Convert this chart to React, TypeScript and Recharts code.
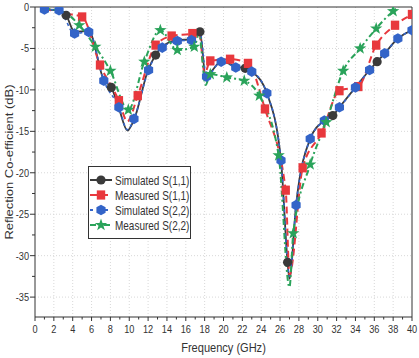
import { LineChart, Line, XAxis, YAxis, CartesianGrid, ReferenceLine } from "recharts";

type Pt = { f: number; db: number; mk?: boolean };

// Simulated S(1,1) – marker every ~4.7 GHz
const simS11: Pt[] = [
  { f: 1.0, db: -0.3 }, { f: 2.5, db: -0.4 }, { f: 3.3, db: -1.0, mk: true },
  { f: 4.2, db: -3.0 }, { f: 5.7, db: -2.9 }, { f: 7.3, db: -8.8 },
  { f: 8.1, db: -9.7, mk: true }, { f: 8.9, db: -12.2 }, { f: 9.8, db: -14.9 },
  { f: 10.5, db: -13.6 }, { f: 12.0, db: -7.6 }, { f: 12.8, db: -5.8, mk: true },
  { f: 13.5, db: -4.8 }, { f: 15.1, db: -4.0 }, { f: 16.6, db: -3.9 },
  { f: 17.5, db: -3.0, mk: true }, { f: 18.1, db: -8.3 }, { f: 19.8, db: -6.6 },
  { f: 21.4, db: -7.2 }, { f: 22.3, db: -7.4, mk: true }, { f: 23.0, db: -7.8 },
  { f: 24.6, db: -10.4 }, { f: 26.1, db: -18.5 }, { f: 26.8, db: -30.8, mk: true },
  { f: 27.0, db: -32.8 }, { f: 27.7, db: -23.9 }, { f: 29.2, db: -15.9 },
  { f: 30.7, db: -13.7 }, { f: 31.6, db: -13.1, mk: true }, { f: 32.3, db: -12.1 },
  { f: 34.0, db: -9.7 }, { f: 35.5, db: -7.6 }, { f: 36.3, db: -6.6, mk: true },
  { f: 37.1, db: -5.6 }, { f: 38.5, db: -3.8 }, { f: 40.0, db: -2.8 },
];

// Measured S(1,1)
const measS11: Pt[] = [
  { f: 1.0, db: -0.2 }, { f: 3.3, db: -0.8 }, { f: 5.0, db: -1.2, mk: true },
  { f: 6.9, db: -7.0, mk: true }, { f: 8.9, db: -11.3, mk: true }, { f: 9.8, db: -13.8 },
  { f: 10.9, db: -10.7, mk: true }, { f: 12.8, db: -4.6, mk: true }, { f: 14.5, db: -3.5, mk: true },
  { f: 16.7, db: -3.2, mk: true }, { f: 17.4, db: -2.8 }, { f: 18.0, db: -8.0 },
  { f: 18.6, db: -6.5, mk: true }, { f: 20.7, db: -6.3, mk: true }, { f: 22.6, db: -6.8, mk: true },
  { f: 24.4, db: -12.3, mk: true }, { f: 26.6, db: -22.1, mk: true }, { f: 27.0, db: -32.3 },
  { f: 28.4, db: -19.4, mk: true }, { f: 30.4, db: -15.2, mk: true }, { f: 32.3, db: -10.1, mk: true },
  { f: 34.3, db: -9.6, mk: true }, { f: 36.2, db: -4.6, mk: true }, { f: 38.2, db: -2.2, mk: true },
  { f: 40.0, db: -0.9, mk: true },
];

// Simulated S(2,2)
const simS22: Pt[] = [
  { f: 1.0, db: -0.3, mk: true }, { f: 2.55, db: -0.4, mk: true }, { f: 4.2, db: -3.2, mk: true },
  { f: 5.7, db: -3.0, mk: true }, { f: 7.3, db: -8.9, mk: true }, { f: 8.9, db: -12.1, mk: true },
  { f: 9.8, db: -14.8 }, { f: 10.5, db: -13.5, mk: true }, { f: 12.05, db: -7.6, mk: true },
  { f: 13.5, db: -4.9, mk: true }, { f: 15.1, db: -4.1, mk: true }, { f: 16.6, db: -4.0, mk: true },
  { f: 17.5, db: -3.1 }, { f: 18.2, db: -8.4, mk: true }, { f: 19.75, db: -6.6, mk: true },
  { f: 21.3, db: -7.3, mk: true }, { f: 23.0, db: -7.8, mk: true }, { f: 24.6, db: -10.4, mk: true },
  { f: 26.1, db: -18.5, mk: true }, { f: 27.0, db: -32.5 }, { f: 27.7, db: -23.9, mk: true },
  { f: 29.2, db: -15.9, mk: true }, { f: 30.7, db: -13.7, mk: true }, { f: 32.3, db: -12.1, mk: true },
  { f: 34.0, db: -9.7, mk: true }, { f: 35.5, db: -7.6, mk: true }, { f: 37.1, db: -5.6, mk: true },
  { f: 38.5, db: -3.8, mk: true }, { f: 40.0, db: -2.8, mk: true },
];

// Measured S(2,2)
const measS22: Pt[] = [
  { f: 1.0, db: -0.2 }, { f: 3.0, db: -0.6 }, { f: 4.7, db: -2.2, mk: true },
  { f: 6.4, db: -4.8, mk: true }, { f: 8.0, db: -7.7, mk: true }, { f: 9.9, db: -12.4, mk: true },
  { f: 11.6, db: -6.6, mk: true }, { f: 13.3, db: -2.8, mk: true }, { f: 15.1, db: -5.2, mk: true },
  { f: 16.9, db: -4.8, mk: true }, { f: 17.4, db: -3.2 }, { f: 18.1, db: -9.4 },
  { f: 18.6, db: -8.1, mk: true }, { f: 20.35, db: -8.5, mk: true }, { f: 22.2, db: -8.9, mk: true },
  { f: 23.8, db: -10.7, mk: true }, { f: 25.85, db: -17.9, mk: true }, { f: 27.0, db: -33.8 },
  { f: 27.4, db: -27.3, mk: true }, { f: 29.2, db: -19.0, mk: true }, { f: 30.9, db: -13.9, mk: true },
  { f: 32.7, db: -7.7, mk: true }, { f: 34.5, db: -5.0, mk: true }, { f: 36.2, db: -2.6, mk: true },
  { f: 38.0, db: -0.5, mk: true }, { f: 38.6, db: 0 },
];

const xTicks = Array.from({ length: 41 }, (_, i) => i);
const yTicks = [0, -2.5, -5, -7.5, -10, -12.5, -15, -17.5, -20, -22.5, -25, -27.5, -30, -32.5, -35];

const FONT = '"Liberation Sans", Arial, sans-serif';
const INK = "#333";
const BLACK = "#3a3a3a";
const RED = "#e8383d";
const BLUE = "#3364c8";
const GREEN = "#2aa35a";

type Shape = "circle" | "square" | "hex" | "star";

function marker(shape: Shape, cx: number, cy: number, key?: string | number) {
  if (shape === "circle") return <circle key={key} cx={cx} cy={cy} r={4.6} fill={BLACK} />;
  if (shape === "square") return <rect key={key} x={cx - 4.2} y={cy - 4.6} width={8.4} height={9.2} fill={RED} />;
  if (shape === "hex") {
    const pts = [0, 1, 2, 3, 4, 5]
      .map((i) => {
        const a = (Math.PI / 3) * i - Math.PI / 2;
        return `${cx + 5.3 * Math.cos(a)},${cy + 5.3 * Math.sin(a)}`;
      })
      .join(" ");
    return <polygon key={key} points={pts} fill={BLUE} />;
  }
  const pts = Array.from({ length: 10 }, (_, i) => {
    const r = i % 2 === 0 ? 6.5 : 2.6;
    const a = (Math.PI / 5) * i - Math.PI / 2;
    return `${cx + r * Math.cos(a)},${cy + r * Math.sin(a)}`;
  }).join(" ");
  return <polygon key={key} points={pts} fill={GREEN} />;
}

const dotFor = (shape: Shape) => (props: any) => {
  const { cx, cy, payload, index } = props;
  if (!payload?.mk || cx == null || cy == null) return <g key={`n${index}`} />;
  return marker(shape, cx, cy, `m${index}`);
};

const XTick = (props: any) => {
  const { x, y, payload } = props;
  const major = payload.value % 2 === 0;
  return (
    <g>
      <line x1={x} x2={x} y1={y} y2={y + (major ? 4 : 2.5)} stroke={INK} />
      {major && (
        <text
          transform={`translate(${x},${y + 15.5}) scale(0.8,1)`}
          textAnchor="middle"
          fontSize={11.5}
          fontFamily={FONT}
          fill={INK}
        >
          {payload.value}
        </text>
      )}
    </g>
  );
};

const YTick = (props: any) => {
  const { x, y, payload } = props;
  const major = payload.value % 5 === 0;
  return (
    <g>
      <line x1={x - (major ? 5 : 3)} x2={x} y1={y} y2={y} stroke={INK} />
      {major && (
        <text
          transform={`translate(${x - 6},${y + 4}) scale(0.8,1)`}
          textAnchor="end"
          fontSize={11.5}
          fontFamily={FONT}
          fill={INK}
        >
          {payload.value}
        </text>
      )}
    </g>
  );
};

// axis titles, drawn from the axis viewBox
const XTitle = (props: any) => {
  const vb = props.viewBox;
  return (
    <text
      transform={`translate(${vb.x + vb.width / 2},${vb.y + 35}) scale(0.85,1)`}
      textAnchor="middle"
      fontSize={13}
      fontFamily={FONT}
      fill={INK}
    >
      Frequency (GHz)
    </text>
  );
};

const YTitle = (props: any) => {
  const vb = props.viewBox;
  return (
    <text
      transform={`translate(13,${vb.y + vb.height / 2}) rotate(-90) scale(1,0.9)`}
      textAnchor="middle"
      fontSize={13}
      fontFamily={FONT}
      fill={INK}
    >
      Reflection Co-efficient (dB)
    </text>
  );
};

const legendRows: { name: string; shape: Shape; color: string; dash?: string }[] = [
  { name: "Simulated S(1,1)", shape: "circle", color: BLACK },
  { name: "Measured S(1,1)", shape: "square", color: RED, dash: "7 4" },
  { name: "Simulated S(2,2)", shape: "hex", color: BLUE, dash: "3 12" },
  { name: "Measured S(2,2)", shape: "star", color: GREEN, dash: "6 3 2 3" },
];

function LegendBox() {
  return (
    <svg
      width={103}
      height={73}
      style={{ position: "absolute", left: 88, top: 166 }}
    >
      <rect x={0.5} y={0.5} width={102} height={72} fill="#fff" stroke={INK} />
      {legendRows.map((r, i) => {
        const cy = 14 + i * 15;
        return (
          <g key={r.name}>
            <line x1={2} x2={24} y1={cy} y2={cy} stroke={r.color} strokeWidth={2} strokeDasharray={r.dash} />
            {marker(r.shape, 13, cy)}
            <text
              transform={`translate(27,${cy + 4.5}) scale(0.8,1)`}
              fontSize={12.5}
              fontFamily={FONT}
              fill={INK}
            >
              {r.name}
            </text>
          </g>
        );
      })}
    </svg>
  );
}

export default function App() {
  return (
    <div style={{ position: "absolute", left: 0, top: 0, width: 419, height: 358, background: "#fff" }}>
      <LineChart width={419} height={358} margin={{ top: 7, right: 7, bottom: 16, left: 0 }}>
        <CartesianGrid
          stroke="#d8d8d8"
          strokeDasharray="1 2"
          horizontalValues={[-5, -10, -15, -20, -25, -30, -35]}
          verticalValues={[2, 4, 6, 8, 10, 12, 14, 16, 18, 20, 22, 24, 26, 28, 30, 32, 34, 36, 38]}
        />
        <XAxis
          type="number"
          dataKey="f"
          domain={[0, 40]}
          ticks={xTicks}
          interval={0}
          allowDataOverflow
          height={25}
          tickSize={0}
          tickMargin={0}
          tickLine={false}
          tick={<XTick />}
          axisLine={{ stroke: INK }}
          label={<XTitle />}
        />
        <YAxis
          type="number"
          domain={[-37.4, 0]}
          ticks={yTicks}
          interval={0}
          allowDataOverflow
          width={35}
          tickSize={0}
          tickMargin={0}
          tickLine={false}
          tick={<YTick />}
          axisLine={{ stroke: INK }}
          label={<YTitle />}
        />
        <ReferenceLine y={0} stroke={INK} />
        <ReferenceLine x={40} stroke={INK} />
        <Line data={simS11} dataKey="db" type="monotone" stroke={BLACK} strokeWidth={1.8}
          dot={dotFor("circle")} activeDot={false} isAnimationActive={false} />
        <Line data={measS11} dataKey="db" type="monotone" stroke={RED} strokeWidth={2} strokeDasharray="7 4"
          dot={dotFor("square")} activeDot={false} isAnimationActive={false} />
        <Line data={simS22} dataKey="db" type="monotone" stroke={BLUE} strokeWidth={1.6} strokeDasharray="3 3"
          dot={dotFor("hex")} activeDot={false} isAnimationActive={false} />
        <Line data={measS22} dataKey="db" type="monotone" stroke={GREEN} strokeWidth={2} strokeDasharray="6 3 2 3"
          dot={dotFor("star")} activeDot={false} isAnimationActive={false} />
      </LineChart>
      <LegendBox />
    </div>
  );
}
